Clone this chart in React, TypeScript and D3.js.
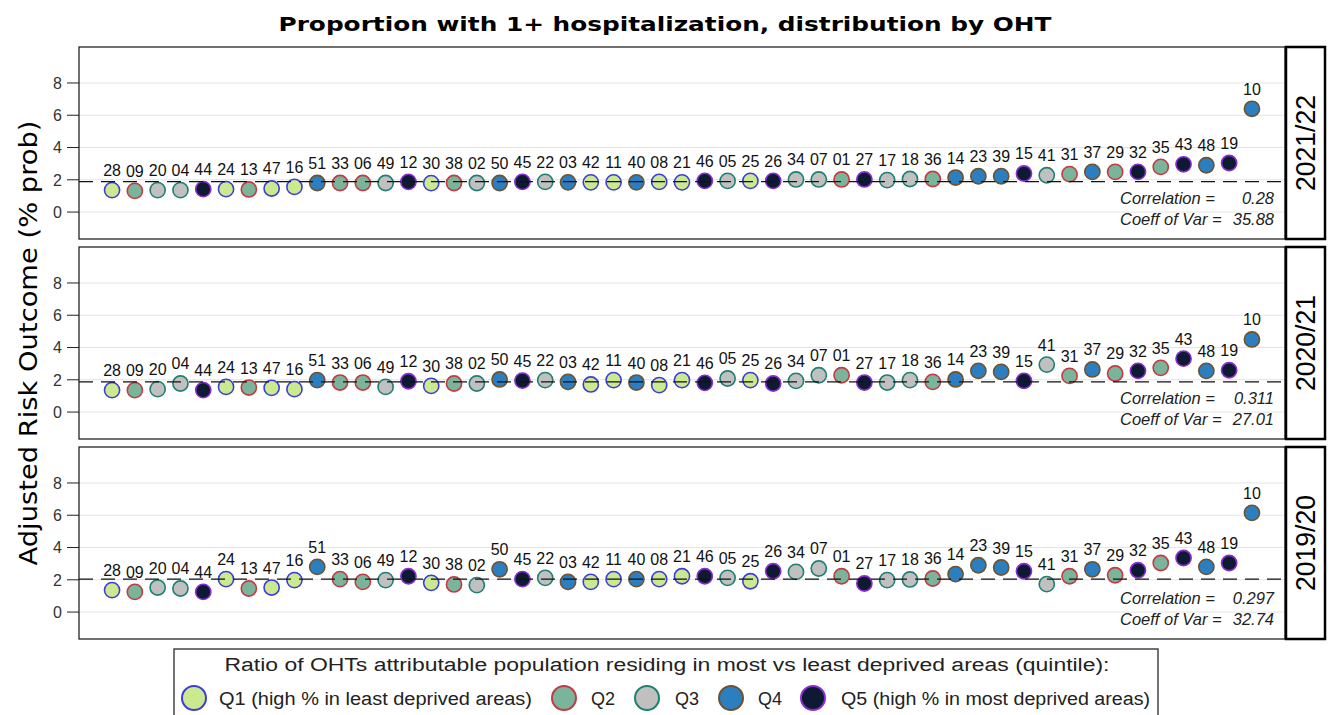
import React from "react";
import * as d3 from "d3";

// OHT order along the x axis (same in every panel)
const ohts = [
  "28", "09", "20", "04", "44", "24", "13", "47", "16", "51",
  "33", "06", "49", "12", "30", "38", "02", "50", "45", "22",
  "03", "42", "11", "40", "08", "21", "46", "05", "25", "26",
  "34", "07", "01", "27", "17", "18", "36", "14", "23", "39",
  "15", "41", "31", "37", "29", "32", "35", "43", "48", "19", "10"
];

// deprivation quintile of each OHT (1..5)
const quintiles = [
  1, 2, 3, 3, 5, 1, 2, 1, 1, 4,
  2, 2, 3, 5, 1, 2, 3, 4, 5, 3,
  4, 1, 1, 4, 1, 1, 5, 3, 1, 5,
  3, 3, 2, 5, 3, 3, 2, 4, 4, 4,
  5, 3, 2, 4, 2, 5, 2, 5, 4, 5, 4
];

const values2122 = [
  1.36, 1.31, 1.36, 1.36, 1.42, 1.42, 1.4, 1.46, 1.56, 1.8,
  1.8, 1.8, 1.8, 1.87, 1.79, 1.8, 1.8, 1.8, 1.87, 1.87,
  1.84, 1.84, 1.84, 1.84, 1.87, 1.84, 1.93, 1.93, 1.93, 1.93,
  2.02, 2.02, 2.02, 2.02, 1.98, 2.05, 2.05, 2.14, 2.22, 2.22,
  2.39, 2.28, 2.35, 2.49, 2.49, 2.49, 2.8, 2.96, 2.9, 3.04, 6.4
];

const values2021 = [
  1.36, 1.36, 1.42, 1.77, 1.36, 1.56, 1.52, 1.5, 1.42, 1.98,
  1.83, 1.83, 1.56, 1.91, 1.62, 1.77, 1.77, 2.02, 1.95, 1.98,
  1.87, 1.71, 1.98, 1.83, 1.67, 1.98, 1.81, 2.08, 1.98, 1.77,
  1.93, 2.28, 2.28, 1.83, 1.83, 1.98, 1.87, 2.02, 2.55, 2.49,
  1.93, 2.94, 2.24, 2.64, 2.39, 2.55, 2.74, 3.31, 2.55, 2.59, 4.5
];

const values1920 = [
  1.36, 1.25, 1.52, 1.46, 1.25, 2.04, 1.46, 1.52, 1.98, 2.8,
  2.04, 1.87, 1.98, 2.22, 1.81, 1.71, 1.67, 2.65, 2.04, 2.12,
  1.87, 1.87, 2.04, 2.04, 2.04, 2.22, 2.22, 2.12, 1.91, 2.53,
  2.49, 2.7, 2.22, 1.77, 1.98, 2.02, 2.08, 2.35, 2.9, 2.76,
  2.53, 1.73, 2.22, 2.65, 2.28, 2.59, 3.04, 3.35, 2.8, 3.04, 6.15
];

const periods = ["2021/22", "2020/21", "2019/20"];
const panelValues = [values2122, values2021, values1920];
const means = [1.88, 1.87, 2.04];
const correlations = ["0.28", "0.311", "0.297"];
const coeffVars = ["35.88", "27.01", "32.74"];
const yTicks = [0, 2, 4, 6, 8];

const legendLabels = [
  "Q1 (high % in least deprived areas)",
  "Q2",
  "Q3",
  "Q4",
  "Q5 (high % in most deprived areas)"
];
const fills = ["#cbe98e", "#7ab59b", "#c0c0c0", "#2b7fc0", "#0e1a31"];
const strokes = ["#3d3ddc", "#c23b44", "#1f8072", "#6d5331", "#8a2dd4"];

const W = 1331;
const H = 715;
const left = 79;
const right = 1285;
const panelTops = [47, 247, 447];
const panelH = 192;
const font = "'Liberation Sans', Arial, sans-serif";

const x = d3.scalePoint<string>().domain(ohts).range([left, right]).padding(1.45);

const Panel = ({ idx }: { idx: number }) => {
  const top = panelTops[idx];
  const y = d3.scaleLinear().domain([-1.67, 10.23]).range([top + panelH, top]);
  const vals = panelValues[idx];
  return (
    <g>
      {yTicks.map((t) => (
        <g key={t}>
          <line x1={left} x2={right} y1={y(t)} y2={y(t)} stroke="#e4e4e4" strokeWidth={1} />
          <line x1={67} x2={left} y1={y(t)} y2={y(t)} stroke="#222" strokeWidth={1} />
          <text x={62} y={y(t)} dy="0.36em" textAnchor="end" fontSize={16} fill="#333" fontFamily={font}>
            {t}
          </text>
        </g>
      ))}
      {ohts.map((o, i) => (
        <circle
          key={o}
          cx={x(o)}
          cy={y(vals[i])}
          r={7.6}
          fill={fills[quintiles[i] - 1]}
          stroke={strokes[quintiles[i] - 1]}
          strokeWidth={1.6}
        />
      ))}
      <line
        x1={left}
        x2={right}
        y1={y(means[idx])}
        y2={y(means[idx])}
        stroke="#111"
        strokeWidth={1.3}
        strokeDasharray="14,8"
      />
      {ohts.map((o, i) => (
        <text
          key={"l" + o}
          x={x(o)}
          y={y(vals[i]) - 14}
          textAnchor="middle"
          fontSize={16}
          fill="#111"
          fontFamily={font}
        >
          {o}
        </text>
      ))}
      <g fontFamily={font} fontStyle="italic" fontSize={16.5} fill="#222">
        <text x={1120} y={top + 157}>Correlation =</text>
        <text x={1274} y={top + 157} textAnchor="end">{correlations[idx]}</text>
        <text x={1120} y={top + 178}>Coeff of Var =</text>
        <text x={1274} y={top + 178} textAnchor="end">{coeffVars[idx]}</text>
      </g>
      <rect x={left} y={top} width={right - left} height={panelH} fill="none" stroke="#111" strokeWidth={1.2} />
      <rect x={1286} y={top} width={39} height={panelH} fill="none" stroke="#000" strokeWidth={2.5} />
      <text
        transform={`translate(1315,${top + panelH / 2}) rotate(-90)`}
        textAnchor="middle"
        fontSize={27}
        fill="#000"
        fontFamily={font}
        textLength={96}
        lengthAdjust="spacingAndGlyphs"
      >
        {periods[idx]}
      </text>
    </g>
  );
};

const legendCircleX = [194, 564, 647, 731, 813];
const legendTextX = [219, 591, 675, 758, 841];
const legendTextLen = [313, 0, 0, 0, 309];

export default function App() {
  return (
    <svg
      width={W}
      height={H}
      style={{ position: "fixed", left: 0, top: 0, background: "#fff" }}
      xmlns="http://www.w3.org/2000/svg"
    >
      <rect width={W} height={H} fill="#fff" />
      <text
        x={665}
        y={31}
        textAnchor="middle"
        fontSize={20}
        fontWeight="bold"
        fontFamily="'DejaVu Sans', sans-serif"
        textLength={773}
        lengthAdjust="spacingAndGlyphs"
      >
        Proportion with 1+ hospitalization, distribution by OHT
      </text>
      <text
        transform="translate(37,343) rotate(-90)"
        textAnchor="middle"
        fontSize={24}
        fontFamily="'DejaVu Sans', sans-serif"
        textLength={445}
        lengthAdjust="spacingAndGlyphs"
      >
        Adjusted Risk Outcome (% prob)
      </text>
      {periods.map((p, i) => (
        <Panel key={p} idx={i} />
      ))}
      <g fontFamily={font}>
        <rect x={174} y={649} width={984} height={90} fill="#fff" stroke="#444" strokeWidth={1.5} />
        <text
          x={667}
          y={671}
          textAnchor="middle"
          fontSize={18}
          fill="#222"
          textLength={885}
          lengthAdjust="spacingAndGlyphs"
        >
          Ratio of OHTs attributable population residing in most vs least deprived areas (quintile):
        </text>
        {legendLabels.map((lab, i) => (
          <g key={lab}>
            <circle cx={legendCircleX[i]} cy={698} r={12} fill={fills[i]} stroke={strokes[i]} strokeWidth={2} />
            {legendTextLen[i] > 0 ? (
              <text x={legendTextX[i]} y={705} fontSize={18} fill="#222" textLength={legendTextLen[i]} lengthAdjust="spacingAndGlyphs">
                {lab}
              </text>
            ) : (
              <text x={legendTextX[i]} y={705} fontSize={18} fill="#222">
                {lab}
              </text>
            )}
          </g>
        ))}
      </g>
    </svg>
  );
}
